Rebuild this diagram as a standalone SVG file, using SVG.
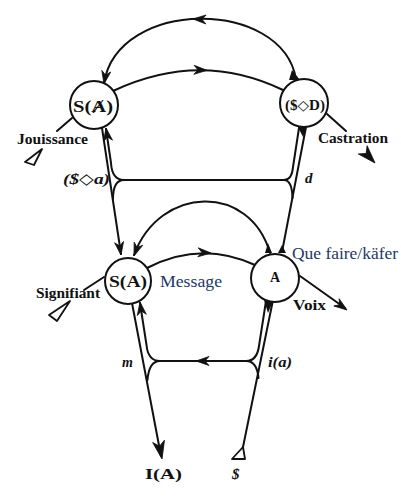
<svg xmlns="http://www.w3.org/2000/svg" width="401" height="500" viewBox="0 0 401 500">
<style>
.ln{fill:none;stroke:#111;stroke-width:2;stroke-linecap:round;stroke-linejoin:round}
.nd{fill:#fff;stroke:#111;stroke-width:2}
.ah{fill:#111;stroke:#111;stroke-width:0.8;stroke-linejoin:round}
.wd{fill:#111}
.tri{fill:#fff;stroke:#111;stroke-width:1.8;stroke-linejoin:round}
.lb{font-family:"Liberation Serif","DejaVu Serif",serif;fill:#111;font-weight:bold}
.it{font-style:italic}
.bl{font-family:"Liberation Serif","Times New Roman",serif;fill:#1F3864;font-size:17px}
</style>
<defs>
<path id="ah" d="M0,0 L-13,-4.5 L-9,0 L-13,4.5 Z"/>
<path id="ahL" d="M0,0 L-18,-6 L-13,0 L-18,6 Z"/>
</defs>
<rect width="401" height="500" fill="#fff"/>
<g id="connectors">
  <!-- upper arcs -->
  <path class="ln" d="M296 79 C282 -2 118 -2 104 83"/>
  <use href="#ah" class="ah" transform="translate(104,84) rotate(100)"/>
  <use href="#ah" class="ah" transform="translate(193,19) rotate(182)"/>
  <polygon class="wd" points="289,80 300,80 292,70"/>
  <path class="ln" d="M113 91 Q200 50 283 90"/>
  <use href="#ah" class="ah" transform="translate(207,70.3) rotate(2)"/>
  <!-- Jouissance / Castration -->
  <path class="ln" d="M72 118 L57 131"/>
  <polygon class="tri" points="42,149 25,162 34,165"/>
  <path class="ln" d="M327 114 L346 131"/>
  <use href="#ahL" class="ah" transform="translate(375,163) rotate(47)"/>
  <!-- upper verticals -->
  <path class="ln" d="M102 128 L121 254"/>
  <use href="#ah" class="ah" transform="translate(121,255) rotate(81.5)"/>
  <path class="ln" d="M106 129 L111 163 Q112 180 124 180 L284 180 Q292 180 293 167 L299 128"/>
  <use href="#ah" class="ah" transform="translate(106,128) rotate(261)"/>
  <path class="ln" d="M124 180 Q113 180 113 199"/>
  <path class="ln" d="M284 180 Q292 180 292.5 198"/>
  <path class="ln" d="M306 127 L282 252"/>
  <polygon class="wd" points="298,127 307,126 303,137"/>
  <polygon class="wd" points="278,253 286,253 282,245"/>
  <!-- lower arc and chain -->
  <path class="ln" d="M270 253 C250 183 160 185 134 255"/>
  <use href="#ah" class="ah" transform="translate(134,256) rotate(110)"/>
  <polygon class="wd" points="265,253 272,253 268,243"/>
  <path class="ln" d="M147 268 Q201 240 255 265"/>
  <use href="#ah" class="ah" transform="translate(211,253) rotate(3)"/>
  <!-- Signifiant / Voix -->
  <path class="ln" d="M104 277 L84 290"/>
  <polygon class="tri" points="70,301 49,315 57,321"/>
  <path class="ln" d="M300 276 L345 308"/>
  <use href="#ah" class="ah" transform="translate(347,310) rotate(36)"/>
  <!-- lower verticals -->
  <path class="ln" d="M132 303 L161 456"/>
  <use href="#ahL" class="ah" transform="translate(162,459) rotate(79)"/>
  <path class="ln" d="M140 303 L146.5 345 Q148 361 160 361 L246 361 Q257 361 259 346 L266 301"/>
  <use href="#ah" class="ah" transform="translate(140,302) rotate(262)"/>
  <use href="#ah" class="ah" transform="translate(196,361) rotate(180)"/>
  <path class="ln" d="M160 361 Q149 361 147.5 380"/>
  <path class="ln" d="M246 361 Q257 361 258.5 378"/>
  <path class="ln" d="M273 300 L243 447"/>
  <polygon class="wd" points="264,300 274,299 268,313"/>
  <polygon class="tri" points="243,447 232,459 245,459"/>
</g>
<g id="node-SbarA">
  <circle class="nd" cx="94" cy="105" r="24"/>
  <text class="lb" x="73" y="112" font-size="17" textLength="40" lengthAdjust="spacingAndGlyphs">S(Ⱥ)</text>
</g>
<g id="node-SD">
  <circle class="nd" cx="304" cy="103" r="24"/>
  <text class="lb" x="285" y="110" font-size="14" textLength="40" lengthAdjust="spacingAndGlyphs">($◇D)</text>
</g>
<g id="node-sA">
  <circle class="nd" cx="128" cy="281" r="23"/>
  <text class="lb" x="109" y="287" font-size="16" textLength="38" lengthAdjust="spacingAndGlyphs">S(A)</text>
</g>
<g id="node-A">
  <circle class="nd" cx="275" cy="278" r="24"/>
  <text class="lb" x="270" y="282" font-size="14">A</text>
</g>
<g id="labels">
  <text class="lb" x="17" y="144" font-size="15" textLength="71" lengthAdjust="spacingAndGlyphs">Jouissance</text>
  <text class="lb" x="318" y="143" font-size="15" textLength="70" lengthAdjust="spacingAndGlyphs">Castration</text>
  <text class="lb" x="36" y="298" font-size="15" textLength="64" lengthAdjust="spacingAndGlyphs">Signifiant</text>
  <text class="lb" x="293" y="310" font-size="14" textLength="33" lengthAdjust="spacingAndGlyphs">Voix</text>
  <text class="bl" x="160" y="287" textLength="62" lengthAdjust="spacingAndGlyphs">Message</text>
  <text class="bl" x="292" y="259" textLength="106" lengthAdjust="spacingAndGlyphs">Que faire/käfer</text>
  <text class="lb it" x="63" y="184" font-size="15" textLength="47" lengthAdjust="spacingAndGlyphs">($◇a)</text>
  <text class="lb it" x="305" y="183" font-size="15">d</text>
  <text class="lb it" x="122" y="367" font-size="14">m</text>
  <text class="lb it" x="268" y="367" font-size="14" textLength="24" lengthAdjust="spacingAndGlyphs">i(a)</text>
  <text class="lb" x="145" y="479" font-size="15" textLength="37" lengthAdjust="spacingAndGlyphs">I(A)</text>
  <text class="lb it" x="232" y="479" font-size="15">$</text>
</g>
</svg>
